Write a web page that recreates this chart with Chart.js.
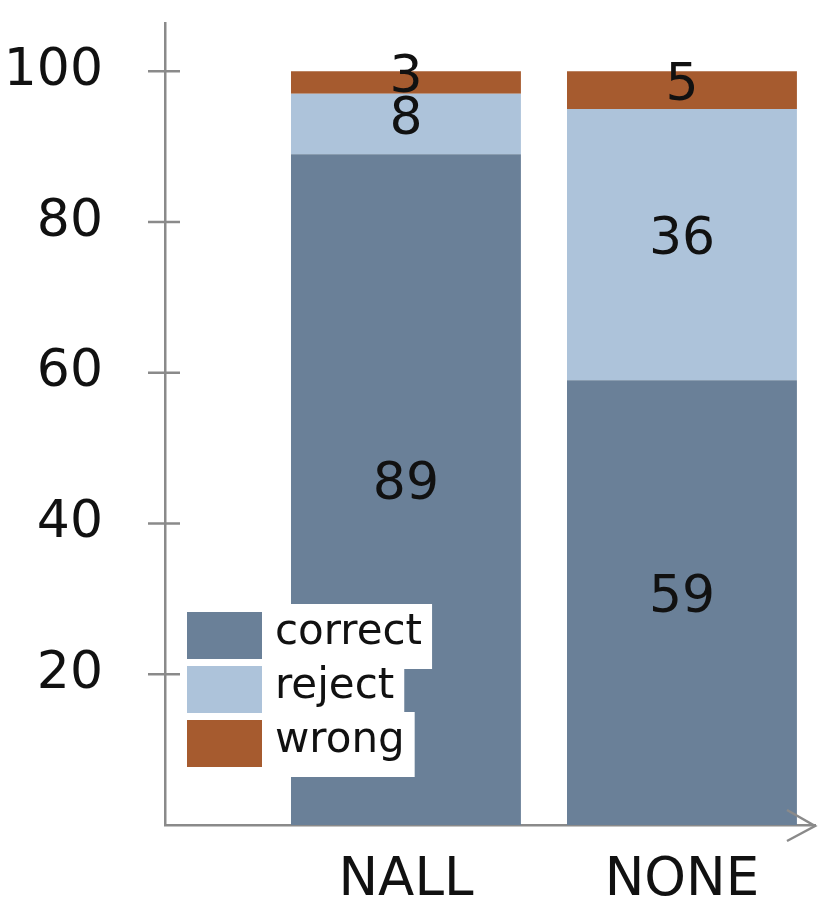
<!DOCTYPE html>
<html><head><meta charset="utf-8">
<script src="https://cdn.jsdelivr.net/npm/chart.js@4/dist/chart.umd.min.js"></script>
<style>html,body{margin:0;padding:0;background:#fff;}</style>
</head><body>
<canvas id="c" width="822" height="910" style="width:822px;height:910px;display:block"></canvas>
<script>
const categories = ['NALL', 'NONE'];
const seriesNames = ['correct', 'reject', 'wrong'];
const correctValues = [89, 59];
const rejectValues = [8, 36];
const wrongValues = [3, 5];
const yTickValues = [20, 40, 60, 80, 100];
const seriesColors = ['#6a8098', '#adc3da', '#a65b2f'];

const FONT = "'DejaVu Sans', sans-serif";
const AXIS = '#8a8a8a';

function toPoints(vals) { return vals.map((v, i) => ({ x: i + 1, y: v })); }

const datasets = [correctValues, rejectValues, wrongValues].map((vals, k) => ({
  label: seriesNames[k],
  data: toPoints(vals),
  backgroundColor: seriesColors[k],
  borderWidth: 0,
  categoryPercentage: 1,
  barPercentage: 0.833
}));

const decorPlugin = {
  id: 'decor',
  afterDraw(chart) {
    const ctx = chart.ctx, ca = chart.chartArea;
    const ys = chart.scales.y;
    ctx.save();
    ctx.strokeStyle = AXIS;
    ctx.lineWidth = 2.5;
    yTickValues.forEach(v => {
      const py = ys.getPixelForValue(v);
      ctx.beginPath();
      ctx.moveTo(ca.left - 17, py);
      ctx.lineTo(ca.left + 15, py);
      ctx.stroke();
    });
    ctx.beginPath();
    ctx.moveTo(ca.right - 28, ca.bottom - 15);
    ctx.lineTo(ca.right, ca.bottom + 1);
    ctx.lineTo(ca.right - 28, ca.bottom + 16);
    ctx.stroke();

    ctx.fillStyle = '#111';
    ctx.font = '52px ' + FONT;
    ctx.textAlign = 'center';
    ctx.textBaseline = 'middle';
    chart.data.datasets.forEach((ds, di) => {
      const meta = chart.getDatasetMeta(di);
      meta.data.forEach((el, i) => {
        const p = el.getProps(['x', 'y', 'base'], true);
        ctx.fillText(String(ds.data[i].y), p.x, (p.y + p.base) / 2 - 4);
      });
    });

    const bx = ca.left + 22, by0 = ca.bottom - 213, bw = 75, bh = 47, step = 54;
    ctx.font = '42px ' + FONT;
    ctx.textAlign = 'left';
    chart.data.datasets.forEach((ds, i) => {
      const top = by0 + i * step;
      const tx = bx + bw + 13;
      const tw = ctx.measureText(ds.label).width;
      ctx.fillStyle = '#fff';
      ctx.fillRect(bx + bw + 3, top - 8, tx + tw + 10 - (bx + bw + 3), bh + 18);
    });
    chart.data.datasets.forEach((ds, i) => {
      const top = by0 + i * step;
      ctx.fillStyle = ds.backgroundColor;
      ctx.fillRect(bx, top, bw, bh);
      ctx.fillStyle = '#111';
      ctx.fillText(ds.label, bx + bw + 13, top + bh / 2 - 2);
    });
    ctx.restore();
  }
};

new Chart(document.getElementById('c'), {
  type: 'bar',
  data: { datasets },
  options: {
    responsive: false,
    animation: false,
    devicePixelRatio: 1,
    layout: { padding: { top: 23, right: 7, left: 0, bottom: 0 } },
    plugins: { legend: { display: false }, tooltip: { enabled: false } },
    scales: {
      x: {
        type: 'linear',
        stacked: true,
        min: 0.127,
        max: 2.482,
        offset: false,
        grid: { display: false, drawTicks: false },
        border: { display: true, color: AXIS, width: 2.5 },
        afterBuildTicks(scale) { scale.ticks = categories.map((c, i) => ({ value: i + 1 })); },
        afterFit(scale) {
          scale.height = 85;
          scale.paddingLeft = 0; scale.paddingRight = 0;
          scale.paddingTop = 0; scale.paddingBottom = 0;
        },
        ticks: {
          autoSkip: false,
          maxRotation: 0,
          padding: 24,
          color: '#111',
          font: { family: FONT, size: 53 },
          callback: (v) => categories[Math.round(v) - 1]
        }
      },
      y: {
        stacked: true,
        min: 0,
        max: 106.4,
        grid: { display: false, drawTicks: false },
        border: { display: true, color: AXIS, width: 2.5 },
        afterBuildTicks(scale) { scale.ticks = yTickValues.map(v => ({ value: v })); },
        afterFit(scale) {
          scale.width = 165;
          scale.paddingLeft = 0; scale.paddingRight = 0;
          scale.paddingTop = 0; scale.paddingBottom = 0;
        },
        ticks: {
          padding: 62,
          color: '#111',
          font: { family: FONT, size: 52 }
        }
      }
    }
  },
  plugins: [decorPlugin]
});
</script>
</body></html>
